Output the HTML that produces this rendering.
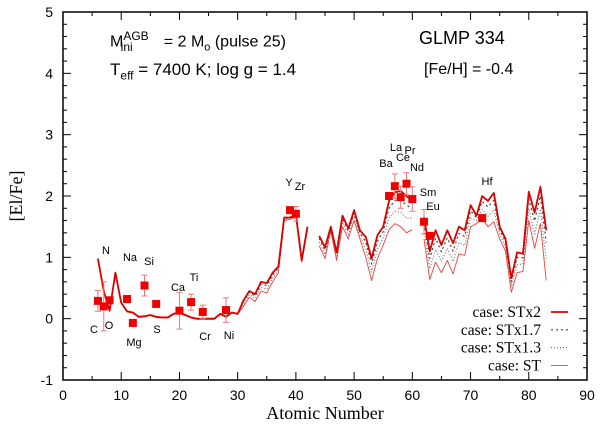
<!DOCTYPE html>
<html><head><meta charset="utf-8"><style>
body{margin:0;background:#fff}
svg{display:block}
.t{font-family:"Liberation Sans",sans-serif}
.s{font-family:"Liberation Serif",serif}
</style></head><body>
<svg id="c" width="600" height="432" xmlns="http://www.w3.org/2000/svg"></svg>
<script>
const Z = [6,7,8,9,10,11,12,13,14,15,16,17,18,19,20,21,22,23,24,25,26,27,28,29,30,31,32,33,34,35,36,37,38,39,40,41,42,43,44,45,46,47,48,49,50,51,52,53,54,55,56,57,58,59,60,61,62,63,64,65,66,67,68,69,70,71,72,73,74,75,76,77,78,79,80,81,82,83];
const stx2 = [.98,.45,.13,.75,.26,.12,.1,.03,.04,.06,.03,.02,.02,.08,.1,.06,.02,0,0,0,0,.08,.03,.1,.08,.3,.45,.4,.6,.58,.75,.85,1.65,1.65,1.7,.95,1.5,null,1.35,1.16,1.5,1.08,1.68,1.47,1.77,1.44,1.33,.98,1.36,1.5,1.92,2.06,2.08,2.0,1.92,null,1.65,1.1,1.44,1.2,1.44,1.23,1.5,1.44,1.85,1.68,2.0,1.92,2.05,1.5,1.3,.66,1.08,1.06,2.07,1.73,2.15,1.44];
const stx17 = [.98,.45,.13,.75,.26,.12,.1,.03,.04,.06,.03,.02,.02,.08,.1,.06,.02,0,0,0,0,.08,.03,.1,.08,.28,.43,.37,.56,.54,.71,.83,1.64,1.64,1.69,.94,1.49,null,1.31,1.12,1.48,1.05,1.63,1.43,1.73,1.4,1.25,.89,1.26,1.42,1.8,1.93,1.93,1.85,1.8,null,1.56,.98,1.31,1.09,1.32,1.1,1.39,1.34,1.76,1.65,1.91,1.82,1.93,1.45,1.25,.6,1.0,.99,1.95,1.59,2.0,1.24];
const stx13 = [.98,.45,.13,.75,.26,.12,.1,.03,.04,.06,.03,.02,.02,.08,.1,.06,.02,0,0,0,0,.08,.03,.1,.08,.24,.39,.33,.51,.48,.66,.79,1.62,1.63,1.67,.93,1.47,null,1.25,1.05,1.46,1.0,1.57,1.37,1.67,1.36,1.13,.76,1.13,1.32,1.64,1.75,1.73,1.64,1.64,null,1.44,.82,1.13,.93,1.15,.93,1.24,1.19,1.64,1.6,1.78,1.67,1.77,1.38,1.18,.52,.88,.89,1.79,1.38,1.79,.95];
const st = [.97,.44,.12,.74,.25,.11,.09,.02,.03,.05,.02,.01,.01,.07,.09,.05,.01,-.01,-.01,-.01,-.01,.07,.02,.09,.07,.2,.35,.28,.45,.42,.6,.75,1.6,1.62,1.65,.92,1.45,null,1.19,.98,1.43,.95,1.5,1.3,1.6,1.3,1.0,.62,.98,1.2,1.45,1.55,1.5,1.4,1.45,null,1.3,.64,.92,.75,.95,.73,1.06,1.03,1.5,1.55,1.63,1.5,1.58,1.3,1.1,.43,.75,.77,1.6,1.15,1.55,.62];
const obsZ = [6,7,8,11,12,14,16,20,22,24,28,39,40,56,57,58,59,60,62,63,72];
const obsV = [.29,.2,.3,.32,-.07,.54,.24,.13,.27,.11,.14,1.77,1.71,2.0,2.16,1.98,2.2,1.95,1.58,1.35,1.64];
const obsE = [.17,.4,.05,0,0,.17,0,.3,.13,.11,.2,0,.12,0,.2,.18,.18,.2,.2,0,0];
const labels = [["N",106,254],["C",94,333],["O",109,329],["Na",130,261],["Si",149,265],["Mg",134,346],["S",157,333],["Ca",178,291],["Ti",194,281],["Cr",205,340],["Ni",229,339],["Y",289,186],["Zr",300,190],["Ba",386,167],["La",396,151],["Pr",410,154],["Ce",403,161],["Nd",417,171],["Sm",428,196],["Eu",433,210],["Hf",487,185]];
const xt=[0,10,20,30,40,50,60,70,80,90], yt=[-1,0,1,2,3,4,5];
const X0=63,X1=587,Y0=380,Y1=12;
const sx=v=>X0+(v-0)/90*(X1-X0), sy=v=>Y0-(v+1)/6*(Y0-Y1);
const svg=document.getElementById('c'),NS='http://www.w3.org/2000/svg';
function mk(t,a,p){const e=document.createElementNS(NS,t);for(const k in a)e.setAttribute(k,a[k]);(p||svg).appendChild(e);return e;}
let e;
e=mk('rect',{x:X0,y:Y1,width:X1-X0,height:Y0-Y1,fill:'none',stroke:'#000','stroke-width':1.5});

for(let v=-1;v<=5.001;v+=0.2){const y=sy(v);const major=Math.abs(v-Math.round(v))<1e-6;const L=major?8:4;mk('line',{x1:X0,x2:X0+L,y1:y,y2:y,stroke:'#000'});mk('line',{x1:X1,x2:X1-L,y1:y,y2:y,stroke:'#000'});}
for(let v=0;v<=90;v+=5){const x=sx(v);const L=v%10==0?8:4;mk('line',{x1:x,x2:x,y1:Y0,y2:Y0-L,stroke:'#000'});mk('line',{x1:x,x2:x,y1:Y1,y2:Y1+L,stroke:'#000'});}
xt.forEach(v=>{e=mk('text',{x:sx(v),y:Y0+20,'text-anchor':'middle','font-size':14,class:'t'});e.textContent=v;
});
yt.forEach(v=>{e=mk('text',{x:X0-10,y:sy(v)+5,'text-anchor':'end','font-size':14,class:'t'});e.textContent=v;
});
e=mk('text',{x:325,y:419,'text-anchor':'middle','font-size':18,class:'s'});e.textContent='Atomic Number';

e=mk('text',{x:0,y:0,'text-anchor':'middle','font-size':18,class:'s',transform:'translate(22,196) rotate(-90)'});e.textContent='[El/Fe]';

function series(vals,attrs,name){let d='',pen=false;Z.forEach((z,i)=>{const v=vals[i];if(v==null){pen=false;return;}d+=(pen?'L':'M')+sx(z).toFixed(1)+' '+sy(v).toFixed(1);pen=true;});
const p=mk('path',Object.assign({d:d,fill:'none','stroke-linejoin':'round'},attrs));
}
series(st,{stroke:'#e8453c','stroke-width':0.9},'line-st');
series(stx13,{stroke:'#777','stroke-width':1.2,'stroke-dasharray':'1 2'},'line-stx1-3');
series(stx17,{stroke:'#444','stroke-width':1.2,'stroke-dasharray':'2 3'},'line-stx1-7');
series(stx2,{stroke:'#d00','stroke-width':1.8},'line-stx2');
obsZ.forEach((z,i)=>{const x=sx(z),y=sy(obsV[i]),er=obsE[i];
if(er>0){const g=mk('g',{stroke:'#e77','stroke-width':1});mk('line',{x1:x,x2:x,y1:sy(obsV[i]+er),y2:sy(obsV[i]-er)},g);mk('line',{x1:x-3,x2:x+3,y1:sy(obsV[i]+er),y2:sy(obsV[i]+er)},g);mk('line',{x1:x-3,x2:x+3,y1:sy(obsV[i]-er),y2:sy(obsV[i]-er)},g);
}
e=mk('rect',{x:x-4,y:y-4,width:8,height:8,fill:'#e00'});
});
labels.forEach(l=>{e=mk('text',{x:l[1],y:l[2],'text-anchor':'middle','font-size':11,class:'t'});e.textContent=l[0];
});
const leg=[['case: STx2',{stroke:'#d00','stroke-width':1.8}],['case: STx1.7',{stroke:'#444','stroke-width':1.2,'stroke-dasharray':'2 3'}],['case: STx1.3',{stroke:'#777','stroke-width':1.2,'stroke-dasharray':'1 2'}],['case: ST',{stroke:'#e8453c','stroke-width':0.9}]];
leg.forEach((l,i)=>{const y=312+i*17.8;e=mk('text',{x:541,y:y+5,'text-anchor':'end','font-size':15.5,class:'s'});e.textContent=l[0];

e=mk('line',Object.assign({x1:551,x2:568,y1:y,y2:y},l[1]));});
</script>
<div style="position:absolute;left:0;top:0;width:600px;height:432px;pointer-events:none">
<div class="t" style="position:absolute;left:110px;top:29px;font-size:16px">M<sup style="font-size:12px">AGB</sup><sub style="font-size:12px;margin-left:-28px">ini</sub>&nbsp;&nbsp;&nbsp;&nbsp;&nbsp;&nbsp; = 2 M<sub style="font-size:11px">o</sub> (pulse 25)</div>
<div class="t" style="position:absolute;left:110px;top:60px;font-size:17px">T<sub style="font-size:12px">eff</sub> = 7400 K; log g = 1.4</div>
<div class="t" style="position:absolute;left:419px;top:28px;font-size:18px">GLMP 334</div>
<div class="t" style="position:absolute;left:424px;top:61px;font-size:16px">[Fe/H] = -0.4</div>
</div>
</body></html>
